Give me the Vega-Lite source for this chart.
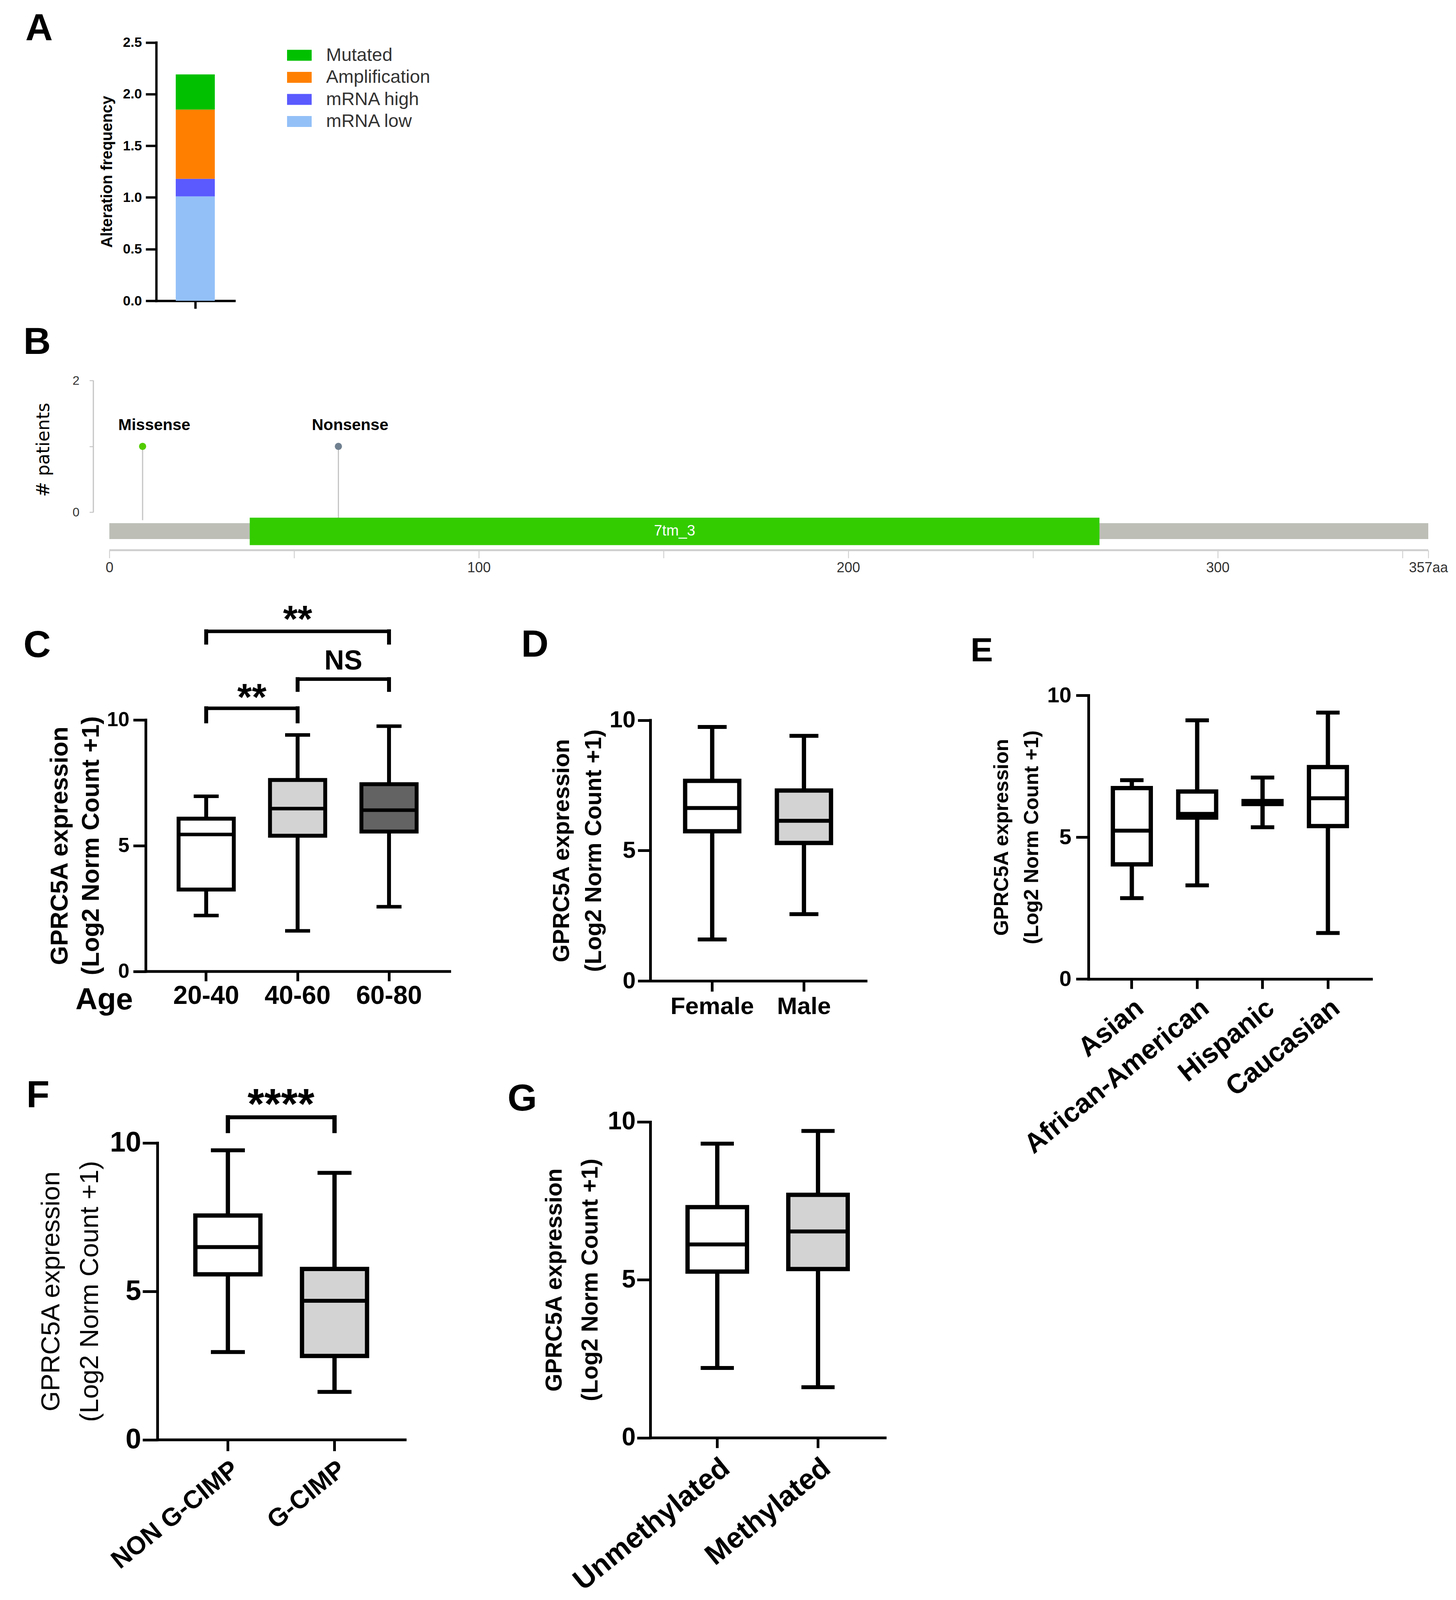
{
"$schema": "https://vega.github.io/schema/vega-lite/v6.json",
"width": 3728, "height": 4096,
"autosize": {"type": "none"},
"padding": 0,
"background": "white",
"config": {
 "view": {"stroke": null},
 "font": "Liberation Sans",
 "axis": {"grid": false, "domainColor": "black", "tickColor": "black", "labelColor": "black", "titleColor": "black", "labelFont": "Liberation Sans", "titleFont": "Liberation Sans", "labelFontWeight": "bold", "titleFontWeight": "bold", "domainCap": "square", "labelOverlap": false, "labelLimit": 0, "titleLimit": 0},
 "legend": {"labelLimit": 0}
},
"datasets": {
 "alterations": [
  {"study": "GPRC5A", "alteration": "mRNA low", "frequency": 1.01, "rank": 1},
  {"study": "GPRC5A", "alteration": "mRNA high", "frequency": 0.17, "rank": 2},
  {"study": "GPRC5A", "alteration": "Amplification", "frequency": 0.67, "rank": 3},
  {"study": "GPRC5A", "alteration": "Mutated", "frequency": 0.34, "rank": 4}
 ],
 "protein": [{"protein": "GPRC5A", "start": 0, "end": 357}],
 "pfam": [{"domain": "7tm_3", "start": 38, "end": 268, "mid": 153}],
 "mutations": [
  {"type": "Missense", "position": 9, "patients": 1},
  {"type": "Nonsense", "position": 62, "patients": 1}
 ],
 "age": [
  {"group": "20-40", "min": 2.22, "q1": 3.25, "median": 5.44, "q3": 6.07, "max": 6.96},
  {"group": "40-60", "min": 1.61, "q1": 5.39, "median": 6.47, "q3": 7.61, "max": 9.40},
  {"group": "60-80", "min": 2.57, "q1": 5.56, "median": 6.41, "q3": 7.44, "max": 9.75}
 ],
 "ageBrackets": [
  {"from": "20-40", "to": "40-60", "top": 10.46, "bottom": 9.94},
  {"from": "40-60", "to": "60-80", "top": 11.62, "bottom": 11.19},
  {"from": "20-40", "to": "60-80", "top": 13.52, "bottom": 13.07}
 ],
 "sex": [
  {"group": "Female", "min": 1.59, "q1": 5.74, "median": 6.63, "q3": 7.67, "max": 9.74},
  {"group": "Male", "min": 2.56, "q1": 5.29, "median": 6.14, "q3": 7.30, "max": 9.40}
 ],
 "race": [
  {"group": "Asian", "min": 2.85, "q1": 4.04, "median": 5.23, "q3": 6.73, "max": 7.01},
  {"group": "African-American", "min": 3.30, "q1": 5.69, "median": 5.82, "q3": 6.61, "max": 9.12},
  {"group": "Hispanic", "min": 5.35, "q1": 6.17, "median": 6.22, "q3": 6.27, "max": 7.10},
  {"group": "Caucasian", "min": 1.62, "q1": 5.39, "median": 6.37, "q3": 7.47, "max": 9.39}
 ],
 "cimp": [
  {"group": "NON G-CIMP", "min": 2.95, "q1": 5.57, "median": 6.49, "q3": 7.55, "max": 9.75},
  {"group": "G-CIMP", "min": 1.61, "q1": 2.82, "median": 4.68, "q3": 5.75, "max": 8.99}
 ],
 "cimpBrackets": [
  {"from": "NON G-CIMP", "to": "G-CIMP", "top": 10.86, "bottom": 10.4}
 ],
 "mgmt": [
  {"group": "Unmethylated", "min": 2.21, "q1": 5.26, "median": 6.12, "q3": 7.30, "max": 9.31},
  {"group": "Methylated", "min": 1.60, "q1": 5.34, "median": 6.53, "q3": 7.69, "max": 9.71}
 ]
},
"resolve": {"scale": {"x": "independent", "y": "independent", "color": "independent"}},
"layer": [
 {
  "layer": [
   {"data": {"name": "alterations"},
    "mark": {"type": "bar"},
    "encoding": {
     "x": {"field": "study", "type": "nominal", "scale": {"range": [400, 600], "paddingInner": 0, "paddingOuter": 0.5},
       "axis": {"orient": "bottom", "offset": -3326, "labels": false, "title": null, "tickSize": 20, "tickWidth": 6, "domainWidth": 6}},
     "y": {"field": "frequency", "type": "quantitative", "stack": "zero", "scale": {"domain": [0, 2.5], "range": [770, 108.5], "nice": false},
       "axis": {"orient": "left", "offset": -400, "values": [0, 0.5, 1, 1.5, 2, 2.5], "format": ".1f", "tickSize": 27, "tickWidth": 6, "domainWidth": 6, "labelFont": "Liberation Sans Narrow, Liberation Sans", "labelFontSize": 35, "labelPadding": 10, "title": "Alteration frequency", "titleFont": "Liberation Sans Narrow, Liberation Sans", "titleFontSize": 40, "titlePadding": 20}},
     "color": {"field": "alteration", "type": "nominal",
       "scale": {"domain": ["Mutated", "Amplification", "mRNA high", "mRNA low"], "range": ["#00c000", "#ff8000", "#5a5aff", "#93c0f7"]},
       "legend": {"orient": "none", "legendX": 735, "legendY": 110, "title": null, "symbolType": "M-1,-0.444H1V0.444H-1Z", "symbolSize": 3969, "symbolStrokeWidth": 0, "symbolOpacity": 1, "labelFontSize": 47, "labelColor": "#333333", "labelOffset": 37, "rowPadding": 1.5, "padding": 0, "labelLimit": 0}},
     "order": {"field": "rank", "type": "quantitative"}
    }},
   {"data": {"values": [{"panel": "A"}]},
    "mark": {"type": "text", "align": "left", "baseline": "alphabetic", "fontSize": 97, "fontWeight": "bold", "dx": -435, "dy": -6},
    "encoding": {"text": {"field": "panel"}, "x": {"datum": "GPRC5A", "type": "nominal"}, "y": {"datum": 2.5}}}
  ]
 },
 {
  "layer": [
   {"data": {"name": "mutations"},
    "mark": {"type": "rule", "color": "#c4c4c4", "strokeWidth": 3},
    "encoding": {
     "x": {"field": "position", "type": "quantitative", "scale": {"domain": [-4.33, 357], "range": [239, 3657], "nice": false, "zero": false},
       "axis": {"orient": "bottom", "offset": -2687.4, "domain": false, "values": [0, 50, 100, 150, 200, 250, 300, 350, 357], "labelExpr": "datum.value == 357 ? '357aa' : (datum.value % 100 == 0 ? datum.label : '')", "tickColor": "#c8c8c8", "tickWidth": 2, "tickSize": 20, "labelFontSize": 36, "labelFontWeight": "normal", "labelColor": "#333333", "labelPadding": 8, "labelFlush": false, "title": null}},
     "y": {"field": "patients", "type": "quantitative", "scale": {"domain": [-0.576, 2], "range": [1408.6, 974], "nice": false, "zero": false},
       "axis": {"orient": "left", "offset": -239, "domain": false, "values": [0, 1, 2], "format": "d", "labelExpr": "datum.value == 1 ? '' : datum.label", "tickColor": "#bbbbbb", "tickWidth": 2, "tickSize": 10, "labelFontSize": 32, "labelFontWeight": "normal", "labelColor": "#333333", "labelPadding": 26, "title": "# patients", "titleFont": "DejaVu Sans", "titleFontSize": 46, "titleFontWeight": "normal", "titleY": 1151, "titlePadding": 50}},
     "y2": {"datum": -0.12}
    }},
   {"data": {"name": "protein"},
    "mark": {"type": "rect", "color": "#bdbfb7"},
    "encoding": {"x": {"field": "start", "type": "quantitative"}, "x2": {"field": "end"}, "y": {"datum": -0.165}, "y2": {"datum": -0.407}}},
   {"data": {"name": "pfam"},
    "mark": {"type": "rect", "color": "#33cc00"},
    "encoding": {"x": {"field": "start", "type": "quantitative"}, "x2": {"field": "end"}, "y": {"datum": -0.082}, "y2": {"datum": -0.499}}},
   {"data": {"name": "pfam"},
    "mark": {"type": "text", "color": "white", "fontSize": 38, "baseline": "middle"},
    "encoding": {"x": {"field": "mid", "type": "quantitative"}, "y": {"datum": -0.29}, "text": {"field": "domain"}}},
   {"data": {"name": "mutations"},
    "mark": {"type": "point", "filled": true, "opacity": 1, "size": 340},
    "encoding": {"x": {"field": "position", "type": "quantitative"}, "y": {"field": "patients", "type": "quantitative"},
     "color": {"field": "type", "type": "nominal", "scale": {"domain": ["Missense", "Nonsense"], "range": ["#52cc00", "#708090"]}, "legend": null}}},
   {"data": {"name": "mutations"},
    "mark": {"type": "text", "fontSize": 41, "fontWeight": "bold", "baseline": "alphabetic", "dy": -42, "dx": 30},
    "encoding": {"x": {"field": "position", "type": "quantitative"}, "y": {"field": "patients", "type": "quantitative"}, "text": {"field": "type"}}},
   {"data": {"values": [{"axis": "x"}]},
    "mark": {"type": "rule", "color": "#d0d0d0", "strokeWidth": 5},
    "encoding": {"x": {"datum": 0}, "x2": {"datum": 357}, "y": {"datum": -0.576}}},
   {"data": {"values": [{"axis": "y"}]},
    "mark": {"type": "rule", "color": "#c4c4c4", "strokeWidth": 3},
    "encoding": {"x": {"datum": -4.33}, "y": {"datum": 0}, "y2": {"datum": 2}}},
   {"data": {"values": [{"panel": "B"}]},
    "mark": {"type": "text", "align": "left", "baseline": "alphabetic", "fontSize": 97, "fontWeight": "bold", "dx": -220, "dy": -68},
    "encoding": {"text": {"field": "panel"}, "x": {"datum": 0}, "y": {"datum": 2}}}
  ]
 },
 {
  "layer": [
   {"data": {"name": "age"},
    "mark": {"type": "rule", "color": "black", "strokeWidth": 10},
    "encoding": {
     "x": {"field": "group", "type": "nominal", "scale": {"domain": ["20-40", "40-60", "60-80"], "range": [373, 1151], "paddingInner": 0.396, "paddingOuter": 0.36},
       "axis": {"orient": "bottom", "offset": -1609.4, "domainWidth": 7, "tickWidth": 7, "tickSize": 25, "labelFontSize": 66, "labelPadding": 6, "labelAngle": 0, "title": "Age", "titleFontSize": 78, "titleX": 340, "titleY": 74, "titleAlign": "right", "titleBaseline": "middle", "titleAngle": 0}},
     "y": {"field": "min", "type": "quantitative", "scale": {"domain": [0, 10], "range": [2486.6, 1842.8], "nice": false},
       "axis": {"orient": "left", "offset": -373, "values": [0, 5, 10], "format": "d", "domainWidth": 7, "tickWidth": 7, "tickSize": 32, "labelFontSize": 52, "labelPadding": 10, "title": ["GPRC5A expression", "(Log2 Norm Count +1)"], "titleFontSize": 63, "titleLineHeight": 80, "titlePadding": 8}},
     "y2": {"field": "max"}
    }},
   {"data": {"name": "age"}, "mark": {"type": "tick", "color": "black", "opacity": 1, "size": 64, "thickness": 9},
    "encoding": {"x": {"field": "group", "type": "nominal"}, "y": {"field": "min", "type": "quantitative"}}},
   {"data": {"name": "age"}, "mark": {"type": "tick", "color": "black", "opacity": 1, "size": 64, "thickness": 9},
    "encoding": {"x": {"field": "group", "type": "nominal"}, "y": {"field": "max", "type": "quantitative"}}},
   {"data": {"name": "age"}, "mark": {"type": "bar", "stroke": "black", "strokeWidth": 10, "opacity": 1},
    "encoding": {"x": {"field": "group", "type": "nominal"}, "y": {"field": "q1", "type": "quantitative"}, "y2": {"field": "q3"},
     "color": {"field": "group", "type": "nominal", "scale": {"domain": ["20-40", "40-60", "60-80"], "range": ["#ffffff", "#d3d3d3", "#636363"]}, "legend": null}}},
   {"data": {"name": "age"}, "mark": {"type": "tick", "color": "black", "opacity": 1, "size": 141, "thickness": 9},
    "encoding": {"x": {"field": "group", "type": "nominal"}, "y": {"field": "median", "type": "quantitative"}}},
   {"data": {"name": "ageBrackets"}, "mark": {"type": "rule", "color": "black", "strokeWidth": 9, "strokeCap": "square"},
    "encoding": {"x": {"field": "from", "type": "nominal", "bandPosition": 0.5}, "x2": {"field": "to", "bandPosition": 0.5}, "y": {"field": "top", "type": "quantitative"}}},
   {"data": {"name": "ageBrackets"}, "mark": {"type": "rule", "color": "black", "strokeWidth": 10, "strokeCap": "square"},
    "encoding": {"x": {"field": "from", "type": "nominal"}, "y": {"field": "top", "type": "quantitative"}, "y2": {"field": "bottom"}}},
   {"data": {"name": "ageBrackets"}, "mark": {"type": "rule", "color": "black", "strokeWidth": 10, "strokeCap": "square"},
    "encoding": {"x": {"field": "to", "type": "nominal"}, "y": {"field": "top", "type": "quantitative"}, "y2": {"field": "bottom"}}},
   {"data": {"values": [{"label": "**", "at": "20-40", "level": 10.4}]},
    "mark": {"type": "text", "fontSize": 96, "fontWeight": "bold", "baseline": "alphabetic", "dx": 117},
    "encoding": {"x": {"field": "at", "type": "nominal"}, "y": {"field": "level", "type": "quantitative"}, "text": {"field": "label"}}},
   {"data": {"values": [{"label": "NS", "at": "40-60", "level": 12.0}]},
    "mark": {"type": "text", "fontSize": 70, "fontWeight": "bold", "baseline": "alphabetic", "dx": 117},
    "encoding": {"x": {"field": "at", "type": "nominal"}, "y": {"field": "level", "type": "quantitative"}, "text": {"field": "label"}}},
   {"data": {"values": [{"label": "**", "at": "40-60", "level": 13.5}]},
    "mark": {"type": "text", "fontSize": 96, "fontWeight": "bold", "baseline": "alphabetic"},
    "encoding": {"x": {"field": "at", "type": "nominal"}, "y": {"field": "level", "type": "quantitative"}, "text": {"field": "label"}}},
   {"data": {"values": [{"panel": "C"}]},
    "mark": {"type": "text", "align": "left", "baseline": "alphabetic", "fontSize": 97, "fontWeight": "bold", "dx": -468, "dy": -161},
    "encoding": {"text": {"field": "panel"}, "x": {"datum": "20-40", "type": "nominal"}, "y": {"datum": 10}}}
  ]
 },
 {
  "layer": [
   {"data": {"name": "sex"},
    "mark": {"type": "rule", "color": "black", "strokeWidth": 11},
    "encoding": {
     "x": {"field": "group", "type": "nominal", "scale": {"domain": ["Female", "Male"], "range": [1665, 2217], "paddingInner": 0.41, "paddingOuter": 0.38},
       "axis": {"orient": "bottom", "offset": -1585, "domainWidth": 7, "tickWidth": 7, "tickSize": 27, "labelFontSize": 62, "labelPadding": 8, "labelAngle": 0, "title": null}},
     "y": {"field": "min", "type": "quantitative", "scale": {"domain": [0, 10], "range": [2511, 1843.6], "nice": false},
       "axis": {"orient": "left", "offset": -1665, "values": [0, 5, 10], "format": "d", "domainWidth": 7, "tickWidth": 7, "tickSize": 32, "labelFontSize": 60, "labelPadding": 6, "title": ["GPRC5A expression", "(Log2 Norm Count +1)"], "titleFontSize": 59, "titleLineHeight": 82, "titlePadding": 10}},
     "y2": {"field": "max"}
    }},
   {"data": {"name": "sex"}, "mark": {"type": "tick", "color": "black", "opacity": 1, "size": 74, "thickness": 10},
    "encoding": {"x": {"field": "group", "type": "nominal"}, "y": {"field": "min", "type": "quantitative"}}},
   {"data": {"name": "sex"}, "mark": {"type": "tick", "color": "black", "opacity": 1, "size": 74, "thickness": 10},
    "encoding": {"x": {"field": "group", "type": "nominal"}, "y": {"field": "max", "type": "quantitative"}}},
   {"data": {"name": "sex"}, "mark": {"type": "bar", "stroke": "black", "strokeWidth": 11, "opacity": 1},
    "encoding": {"x": {"field": "group", "type": "nominal"}, "y": {"field": "q1", "type": "quantitative"}, "y2": {"field": "q3"},
     "color": {"field": "group", "type": "nominal", "scale": {"domain": ["Female", "Male"], "range": ["#ffffff", "#d3d3d3"]}, "legend": null}}},
   {"data": {"name": "sex"}, "mark": {"type": "tick", "color": "black", "opacity": 1, "size": 139, "thickness": 10},
    "encoding": {"x": {"field": "group", "type": "nominal"}, "y": {"field": "median", "type": "quantitative"}}},
   {"data": {"values": [{"panel": "D"}]},
    "mark": {"type": "text", "align": "left", "baseline": "alphabetic", "fontSize": 97, "fontWeight": "bold", "dx": -489, "dy": -163},
    "encoding": {"text": {"field": "panel"}, "x": {"datum": "Female", "type": "nominal"}, "y": {"datum": 10}}}
  ]
 },
 {
  "layer": [
   {"data": {"name": "race"},
    "mark": {"type": "rule", "color": "black", "strokeWidth": 11},
    "encoding": {
     "x": {"field": "group", "type": "nominal", "scale": {"domain": ["Asian", "African-American", "Hispanic", "Caucasian"], "range": [2787, 3511], "paddingInner": 0.42, "paddingOuter": 0.373},
       "axis": {"orient": "bottom", "offset": -1589.8, "domainWidth": 7, "tickWidth": 7, "tickSize": 25, "labelFontSize": 70, "labelPadding": 14, "labelAngle": -39, "labelAlign": "right", "labelBaseline": "top", "title": null}},
     "y": {"field": "min", "type": "quantitative", "scale": {"domain": [0, 10], "range": [2506.2, 1780], "nice": false},
       "axis": {"orient": "left", "offset": -2787, "values": [0, 5, 10], "format": "d", "domainWidth": 7, "tickWidth": 7, "tickSize": 32, "labelFontSize": 56, "labelPadding": 12, "title": ["GPRC5A expression", "(Log2 Norm Count +1)"], "titleFontSize": 52, "titleLineHeight": 77, "titlePadding": 12}},
     "y2": {"field": "max"}
    }},
   {"data": {"name": "race"}, "mark": {"type": "tick", "color": "black", "opacity": 1, "size": 60, "thickness": 10},
    "encoding": {"x": {"field": "group", "type": "nominal"}, "y": {"field": "min", "type": "quantitative"}}},
   {"data": {"name": "race"}, "mark": {"type": "tick", "color": "black", "opacity": 1, "size": 60, "thickness": 10},
    "encoding": {"x": {"field": "group", "type": "nominal"}, "y": {"field": "max", "type": "quantitative"}}},
   {"data": {"name": "race"}, "mark": {"type": "bar", "stroke": "black", "strokeWidth": 11, "opacity": 1, "color": "white"},
    "encoding": {"x": {"field": "group", "type": "nominal"}, "y": {"field": "q1", "type": "quantitative"}, "y2": {"field": "q3"}}},
   {"data": {"name": "race"}, "mark": {"type": "tick", "color": "black", "opacity": 1, "size": 97, "thickness": 10},
    "encoding": {"x": {"field": "group", "type": "nominal"}, "y": {"field": "median", "type": "quantitative"}}},
   {"data": {"values": [{"panel": "E"}]},
    "mark": {"type": "text", "align": "left", "baseline": "alphabetic", "fontSize": 86, "fontWeight": "bold", "dx": -413, "dy": -87},
    "encoding": {"text": {"field": "panel"}, "x": {"datum": "Asian", "type": "nominal"}, "y": {"datum": 10}}}
  ]
 },
 {
  "layer": [
   {"data": {"name": "cimp"},
    "mark": {"type": "rule", "color": "black", "strokeWidth": 11},
    "encoding": {
     "x": {"field": "group", "type": "nominal", "scale": {"domain": ["NON G-CIMP", "G-CIMP"], "range": [403, 1037], "paddingInner": 0.39, "paddingOuter": 0.356},
       "axis": {"orient": "bottom", "offset": -410.5, "domainWidth": 7, "tickWidth": 7, "tickSize": 29, "labelFontSize": 65, "labelPadding": 14, "labelAngle": -39, "labelAlign": "right", "labelBaseline": "top", "title": null}},
     "y": {"field": "min", "type": "quantitative", "scale": {"domain": [0, 10], "range": [3685.5, 2925.7], "nice": false},
       "axis": {"orient": "left", "offset": -403, "values": [0, 5, 10], "format": "d", "domainWidth": 7, "tickWidth": 7, "tickSize": 38, "labelFontSize": 72, "labelPadding": 4, "title": ["GPRC5A expression", "(Log2 Norm Count +1)"], "titleFontSize": 67, "titleFontWeight": "normal", "titleLineHeight": 99, "titlePadding": 16}},
     "y2": {"field": "max"}
    }},
   {"data": {"name": "cimp"}, "mark": {"type": "tick", "color": "black", "opacity": 1, "size": 87, "thickness": 10},
    "encoding": {"x": {"field": "group", "type": "nominal"}, "y": {"field": "min", "type": "quantitative"}}},
   {"data": {"name": "cimp"}, "mark": {"type": "tick", "color": "black", "opacity": 1, "size": 87, "thickness": 10},
    "encoding": {"x": {"field": "group", "type": "nominal"}, "y": {"field": "max", "type": "quantitative"}}},
   {"data": {"name": "cimp"}, "mark": {"type": "bar", "stroke": "black", "strokeWidth": 11, "opacity": 1},
    "encoding": {"x": {"field": "group", "type": "nominal"}, "y": {"field": "q1", "type": "quantitative"}, "y2": {"field": "q3"},
     "color": {"field": "group", "type": "nominal", "scale": {"domain": ["NON G-CIMP", "G-CIMP"], "range": ["#ffffff", "#d3d3d3"]}, "legend": null}}},
   {"data": {"name": "cimp"}, "mark": {"type": "tick", "color": "black", "opacity": 1, "size": 166, "thickness": 10},
    "encoding": {"x": {"field": "group", "type": "nominal"}, "y": {"field": "median", "type": "quantitative"}}},
   {"data": {"name": "cimpBrackets"}, "mark": {"type": "rule", "color": "black", "strokeWidth": 10, "strokeCap": "square"},
    "encoding": {"x": {"field": "from", "type": "nominal", "bandPosition": 0.5}, "x2": {"field": "to", "bandPosition": 0.5}, "y": {"field": "top", "type": "quantitative"}}},
   {"data": {"name": "cimpBrackets"}, "mark": {"type": "rule", "color": "black", "strokeWidth": 11, "strokeCap": "square"},
    "encoding": {"x": {"field": "from", "type": "nominal"}, "y": {"field": "top", "type": "quantitative"}, "y2": {"field": "bottom"}}},
   {"data": {"name": "cimpBrackets"}, "mark": {"type": "rule", "color": "black", "strokeWidth": 11, "strokeCap": "square"},
    "encoding": {"x": {"field": "to", "type": "nominal"}, "y": {"field": "top", "type": "quantitative"}, "y2": {"field": "bottom"}}},
   {"data": {"values": [{"label": "****", "at": "NON G-CIMP", "level": 10.83}]},
    "mark": {"type": "text", "fontSize": 110, "fontWeight": "bold", "baseline": "alphabetic", "dx": 136},
    "encoding": {"x": {"field": "at", "type": "nominal"}, "y": {"field": "level", "type": "quantitative"}, "text": {"field": "label"}}},
   {"data": {"values": [{"panel": "F"}]},
    "mark": {"type": "text", "align": "left", "baseline": "alphabetic", "fontSize": 97, "fontWeight": "bold", "dx": -516, "dy": -92},
    "encoding": {"text": {"field": "panel"}, "x": {"datum": "NON G-CIMP", "type": "nominal"}, "y": {"datum": 10}}}
  ]
 },
 {
  "layer": [
   {"data": {"name": "mgmt"},
    "mark": {"type": "rule", "color": "black", "strokeWidth": 11},
    "encoding": {
     "x": {"field": "group", "type": "nominal", "scale": {"domain": ["Unmethylated", "Methylated"], "range": [1665, 2266], "paddingInner": 0.41, "paddingOuter": 0.37},
       "axis": {"orient": "bottom", "offset": -415.4, "domainWidth": 7, "tickWidth": 7, "tickSize": 26, "labelFontSize": 74, "labelPadding": 14, "labelAngle": -39, "labelAlign": "right", "labelBaseline": "top", "title": null}},
     "y": {"field": "min", "type": "quantitative", "scale": {"domain": [0, 10], "range": [3680.6, 2871.9], "nice": false},
       "axis": {"orient": "left", "offset": -1665, "values": [0, 5, 10], "format": "d", "domainWidth": 7, "tickWidth": 7, "tickSize": 34, "labelFontSize": 64, "labelPadding": 4, "title": ["GPRC5A expression", "(Log2 Norm Count +1)"], "titleFontSize": 59, "titleLineHeight": 92, "titlePadding": 14}},
     "y2": {"field": "max"}
    }},
   {"data": {"name": "mgmt"}, "mark": {"type": "tick", "color": "black", "opacity": 1, "size": 85, "thickness": 10},
    "encoding": {"x": {"field": "group", "type": "nominal"}, "y": {"field": "min", "type": "quantitative"}}},
   {"data": {"name": "mgmt"}, "mark": {"type": "tick", "color": "black", "opacity": 1, "size": 85, "thickness": 10},
    "encoding": {"x": {"field": "group", "type": "nominal"}, "y": {"field": "max", "type": "quantitative"}}},
   {"data": {"name": "mgmt"}, "mark": {"type": "bar", "stroke": "black", "strokeWidth": 11, "opacity": 1},
    "encoding": {"x": {"field": "group", "type": "nominal"}, "y": {"field": "q1", "type": "quantitative"}, "y2": {"field": "q3"},
     "color": {"field": "group", "type": "nominal", "scale": {"domain": ["Unmethylated", "Methylated"], "range": ["#ffffff", "#d3d3d3"]}, "legend": null}}},
   {"data": {"name": "mgmt"}, "mark": {"type": "tick", "color": "black", "opacity": 1, "size": 152, "thickness": 10},
    "encoding": {"x": {"field": "group", "type": "nominal"}, "y": {"field": "median", "type": "quantitative"}}},
   {"data": {"values": [{"panel": "G"}]},
    "mark": {"type": "text", "align": "left", "baseline": "alphabetic", "fontSize": 97, "fontWeight": "bold", "dx": -537, "dy": -29},
    "encoding": {"text": {"field": "panel"}, "x": {"datum": "Unmethylated", "type": "nominal"}, "y": {"datum": 10}}}
  ]
 }
]
}
